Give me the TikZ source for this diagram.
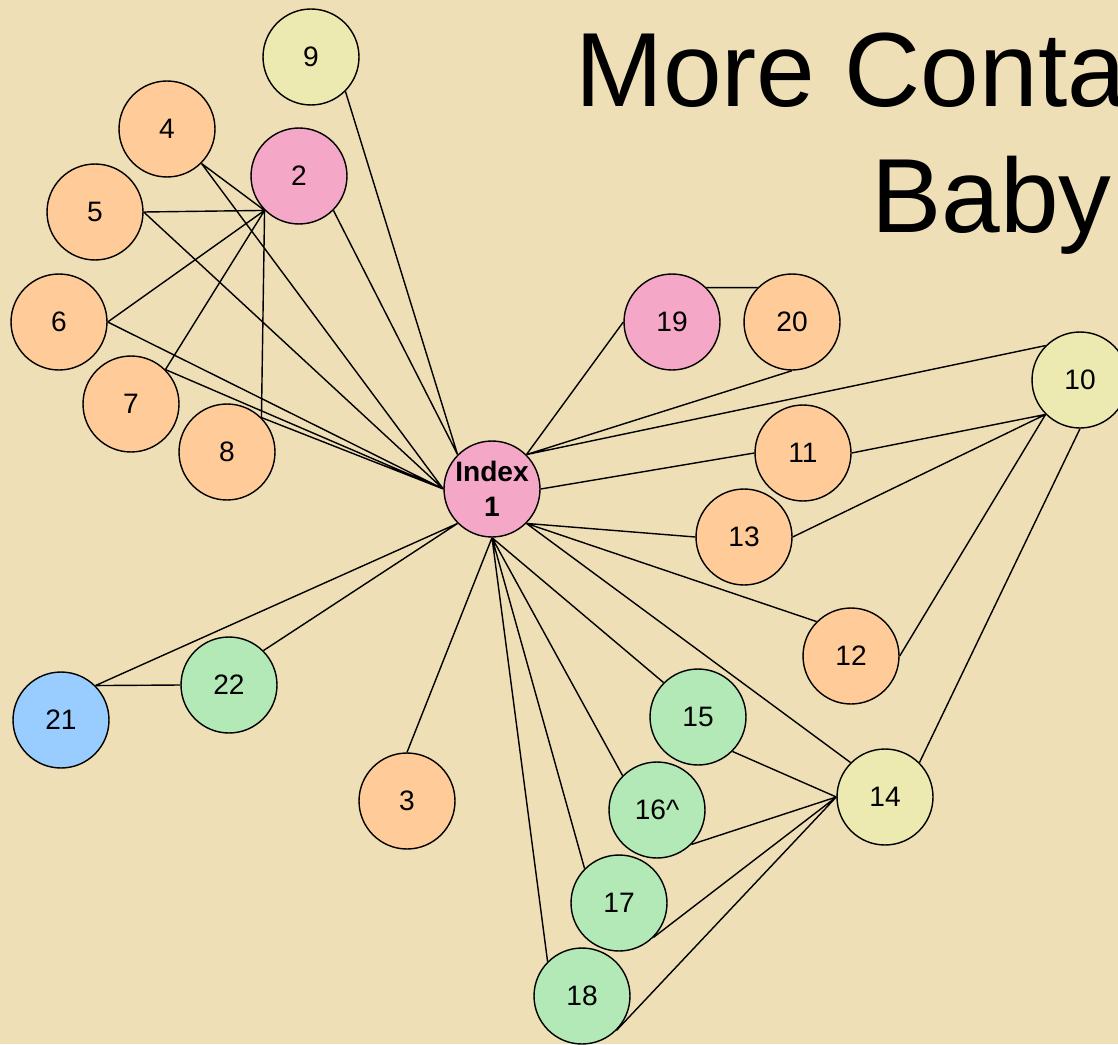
\documentclass[tikz,border=0pt]{standalone}
\usepackage{fontspec}
\setmainfont{Liberation Sans}
\usepackage{xcolor}

\definecolor{paper}{HTML}{EEDFB6}
\definecolor{peach}{HTML}{FFCC99}
\definecolor{rose}{HTML}{F4A7C6}
\definecolor{lime}{HTML}{ECE9B1}
\definecolor{mint}{HTML}{B3E9B7}
\definecolor{sky}{HTML}{99CCFF}

\begin{document}
\begin{tikzpicture}[x=0.02cm,y=-0.02cm,
    v/.style={circle,draw,line width=0.8pt,minimum size=1.92cm,inner sep=0pt,
      font=\fontsize{16}{19}\selectfont},
    vpeach/.style={v,fill=peach},
    vrose/.style={v,fill=rose},
    vlime/.style={v,fill=lime},
    vmint/.style={v,fill=mint},
    vsky/.style={v,fill=sky},
    title/.style={anchor=base west,inner sep=0pt,font=\fontsize{60}{72}\selectfont}]
                \clip (0,0) rectangle (1118,1044);
                \fill[paper] (0,0) rectangle (1118,1044);

                \node (t1) at (575,107) [title] {More Conta};
                \node (t2) at (871,233) [title] {Baby};

                \node (n9) at (311,57) [vlime] {9};
                \node (n4) at (167,129) [vpeach] {4};
                \node (n2) at (299,176) [vrose] {2};
                \node (n5) at (95,212) [vpeach] {5};
                \node (n6) at (59,322) [vpeach] {6};
                \node (n7) at (131,404) [vpeach] {7};
                \node (n8) at (227,452) [vpeach] {8};
                \node (n1) at (492,489) [vrose,align=center,font=\fontsize{16}{20}\selectfont\bfseries] {Index\\1};
                \node (n19) at (672,322) [vrose] {19};
                \node (n20) at (792,322) [vpeach] {20};
                \node (n10) at (1080,380) [vlime] {10};
                \node (n11) at (803,453) [vpeach] {11};
                \node (n13) at (744,537) [vpeach] {13};
                \node (n12) at (851,656) [vpeach] {12};
                \node (n15) at (698,717) [vmint] {15};
                \node (n14) at (885,797) [vlime] {14};
                \node (n16) at (657,810) [vmint] {16\^{}};
                \node (n3) at (407,801) [vpeach] {3};
                \node (n17) at (619,903) [vmint] {17};
                \node (n18) at (582,996) [vmint] {18};
                \node (n21) at (61,720) [vsky] {21};
                \node (n22) at (229,685) [vmint] {22};

                \draw[line width=0.8pt] (n9.south east) -- (n1.north west) (n2.south east) -- (n1.north west)
                (n4.south east) -- (n1.west) (n5.east) -- (n1.west) (n6.east) -- (n1.west)
                (n7.north east) -- (n1.west) (n8.north east) -- (n1.west)
                (n4.south east) -- (n2.south west) (n5.east) -- (n2.south west) (n6.east) -- (n2.south west)
                (n7.north east) -- (n2.south west) (n8.north east) -- (n2.south west)
                (n19.west) -- (n1.north east) (n20.south) -- (n1.north east) (n10.north west) -- (n1.north east)
                (n19.north east) -- (n20.north west)
                (n11.west) -- (n1.east) (n11.east) -- (n10.south west) (n13.east) -- (n10.south west)
                (n12.east) -- (n10.south west) (n14.north east) -- (n10.south)
                (n13.west) -- (n1.south east) (n12.north west) -- (n1.south east) (n14.north west) -- (n1.south east)
                (n15.north west) -- (n1.south) (n16.north west) -- (n1.south) (n17.north west) -- (n1.south)
                (n18.north west) -- (n1.south) (n3.north) -- (n1.south)
                (n15.south east) -- (n14.west) (n16.south east) -- (n14.west) (n17.south east) -- (n14.west)
                (n18.south east) -- (n14.west)
                (n21.north east) -- (n1.south west) (n22.north east) -- (n1.south west) (n21.north east) -- (n22.west);

            \end{tikzpicture}
\end{document}
